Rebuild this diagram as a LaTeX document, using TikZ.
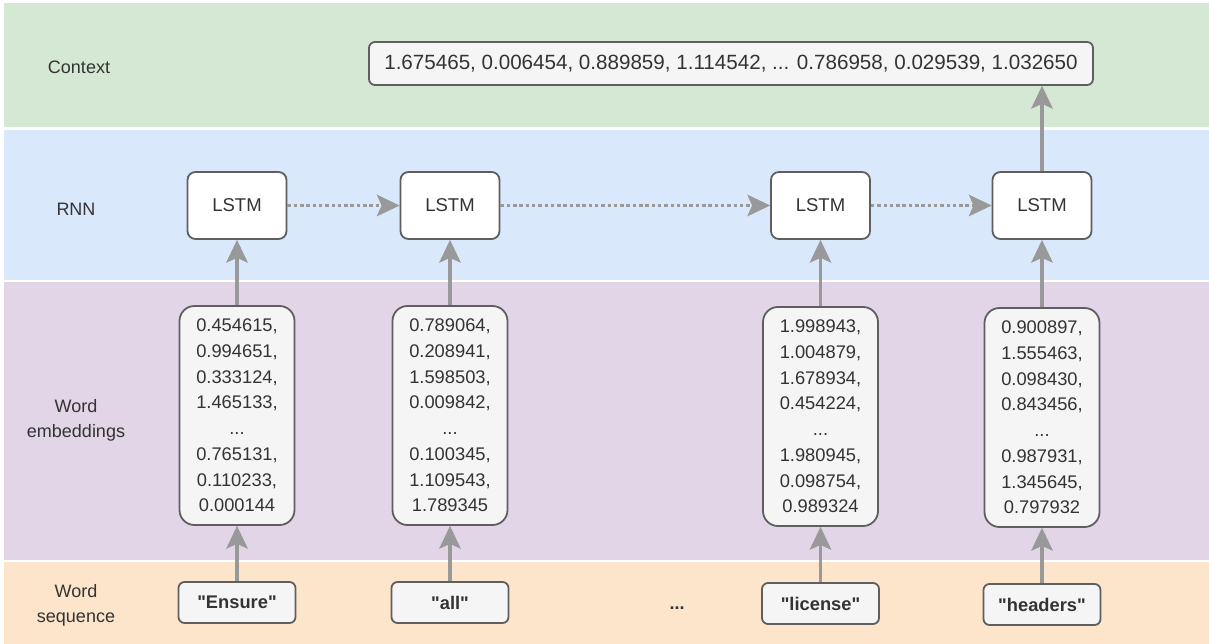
\documentclass[tikz,border=0pt]{standalone}
\usepackage{fontspec}
\setmainfont{Liberation Sans}
% same face without the TeX quote mapping, for straight quotes
\newfontfamily\plainquotes{Liberation Sans}
\usetikzlibrary{arrows.meta}

\definecolor{bandgreen}{HTML}{D5E8D4}
\definecolor{bandblue}{HTML}{DAE8FC}
\definecolor{bandpurple}{HTML}{E1D5E7}
\definecolor{bandorange}{HTML}{FDE5CB}
\definecolor{boxline}{HTML}{5F5F5F}
\definecolor{boxfill}{HTML}{F5F5F5}
\definecolor{txt}{HTML}{333333}
\definecolor{arrowgray}{HTML}{999999}

\tikzset{
  x=1pt, y=-1pt,
  lbl/.style={text=txt, font=\fontsize{18}{25}\selectfont, align=center},
  lstm/.style={draw=boxline, line width=1.8pt, fill=white, rounded corners=8pt,
    minimum width=99pt, minimum height=67pt, inner sep=0pt, text=txt,
    font=\fontsize{18.5}{22}\selectfont},
  emb/.style={draw=boxline, line width=1.8pt, fill=boxfill, rounded corners=15pt,
    minimum width=115pt, minimum height=219pt, inner sep=0pt, text=txt, align=center,
    font=\fontsize{18.3}{25.7}\selectfont},
  word/.style={draw=boxline, line width=1.8pt, fill=boxfill, rounded corners=6pt,
    minimum width=117pt, minimum height=41pt, inner sep=0pt, text=txt,
    font=\plainquotes\fontsize{18.3}{22}\selectfont\bfseries},
  ctx/.style={draw=boxline, line width=1.8pt, fill=boxfill, rounded corners=6pt,
    minimum width=724pt, minimum height=43pt, inner sep=0pt, text=txt,
    font=\fontsize{20.6}{24}\selectfont},
  flow/.style={draw=arrowgray, line width=3.2pt,
    -{Stealth[length=23pt, width=22pt, inset=5pt, line width=0pt, fill=arrowgray]}},
  recur/.style={flow, line width=3.5pt, dash pattern=on 3.5pt off 2.8pt},
}

\begin{document}
\begin{tikzpicture}
\useasboundingbox (0,0) rectangle (1209,644);
\fill[white] (0,0) rectangle (1209,644);

% layer bands
\fill[bandgreen]  (4,3)   rectangle (1209,127);
\fill[bandblue]   (4,130) rectangle (1209,280);
\fill[bandpurple] (4,282) rectangle (1209,560);
\fill[bandorange] (4,562) rectangle (1209,644);

% layer labels
\node[lbl] (lctx) at (79,67)  {Context};
\node[lbl] (lrnn) at (76,209) {RNN};
\node[lbl] (lemb) at (76,420) {Word\\embeddings};
\node[lbl] (lseq) at (76,605) {Word\\sequence};

% context vector
\node[ctx] (context) at (731,63.5)
  {1.675465, 0.006454, 0.889859, 1.114542, ... 0.786958, 0.029539, 1.032650};

% LSTM cells
\node[lstm] (c1) at (237,205.5)  {LSTM};
\node[lstm] (c2) at (450,205.5)  {LSTM};
\node[lstm] (c3) at (820.5,205.5) {LSTM};
\node[lstm] (c4) at (1042,205.5) {LSTM};

% word embeddings
\node[emb] (e1) at (237,415.5) {0.454615,\\0.994651,\\0.333124,\\1.465133,\\...\\0.765131,\\0.110233,\\0.000144};
\node[emb] (e2) at (450,415.5) {0.789064,\\0.208941,\\1.598503,\\0.009842,\\...\\0.100345,\\1.109543,\\1.789345};
\node[emb] (e3) at (820.5,416.5) {1.998943,\\1.004879,\\1.678934,\\0.454224,\\...\\1.980945,\\0.098754,\\0.989324};
\node[emb] (e4) at (1042,417.5) {0.900897,\\1.555463,\\0.098430,\\0.843456,\\...\\0.987931,\\1.345645,\\0.797932};

% word sequence
\node[word] (w1) at (237,602.5)   {"Ensure"};
\node[word] (w2) at (450,602.5)   {"all"};
\node[lbl, font=\fontsize{18}{22}\selectfont\bfseries] (wdots) at (677,608) {...};
\node[word] (w3) at (820.5,603.5) {"license"};
\node[word] (w4) at (1042,604.5)  {"headers"};

% words to embeddings
\draw[flow] (w1) -- (e1);
\draw[flow] (w2) -- (e2);
\draw[flow] (w3) -- (e3);
\draw[flow] (w4) -- (e4);

% embeddings to cells
\draw[flow] (e1) -- (c1);
\draw[flow] (e2) -- (c2);
\draw[flow] (e3) -- (c3);
\draw[flow] (e4) -- (c4);

% recurrent connections
\draw[recur] (c1) -- (c2);
\draw[recur] (c2) -- (c3);
\draw[recur] (c3) -- (c4);

% final state to context
\draw[flow] (c4.north) -- (c4.north |- context.south);
\end{tikzpicture}
\end{document}
